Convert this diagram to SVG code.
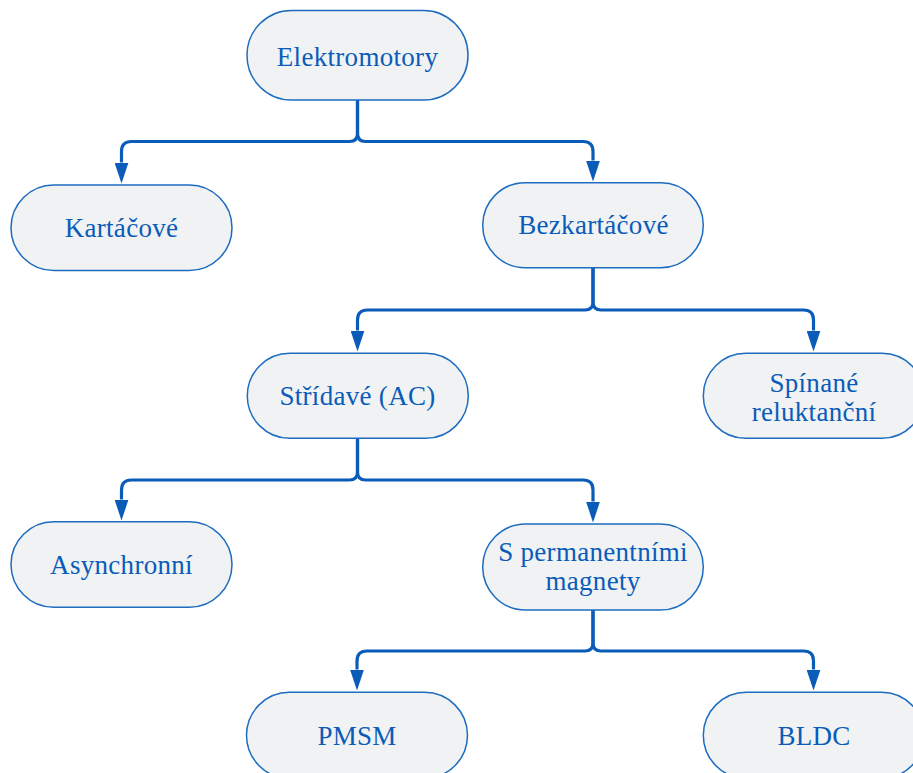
<svg xmlns="http://www.w3.org/2000/svg" width="913" height="773" viewBox="0 0 913 773">
<style>
.node rect{fill:#f1f2f4;stroke:#1c6cc0;stroke-width:1.5}
.node text{font-family:"Liberation Serif","Times New Roman",serif;font-size:27px;letter-spacing:0.3px;fill:#0a5cb8;text-anchor:middle}
.edge{fill:none;stroke:#0a5cb8;stroke-width:3.2;marker-end:url(#arr)}
</style>
<defs>
<marker id="arr" markerUnits="userSpaceOnUse" markerWidth="21" markerHeight="14" refX="0" refY="7" orient="auto">
<path d="M0,0 L21,7 L0,14 z" fill="#0a5cb8"/>
</marker>
</defs>
<rect width="913" height="773" fill="#ffffff"/>
<g id="connectors">
<path class="edge" d="M357.5,100 V133.5 Q357.5,141.5 349.5,141.5 H131.5 Q121.5,141.5 121.5,151.5 V162.5"/>
<path class="edge" d="M357.5,100 V133.5 Q357.5,141.5 365.5,141.5 H583 Q593,141.5 593,151.5 V160.5"/>
<path class="edge" d="M593,268 V302 Q593,310 585,310 H367.5 Q357.5,310 357.5,320 V330.5"/>
<path class="edge" d="M593,268 V302 Q593,310 601,310 H803.5 Q813.5,310 813.5,320 V330.5"/>
<path class="edge" d="M357.5,438 V472 Q357.5,480 349.5,480 H131.5 Q121.5,480 121.5,490 V499.5"/>
<path class="edge" d="M357.5,438 V472 Q357.5,480 365.5,480 H583 Q593,480 593,490 V501.5"/>
<path class="edge" d="M593,610 V643 Q593,651 585,651 H367 Q357,651 357,661 V669.5"/>
<path class="edge" d="M593,610 V643 Q593,651 601,651 H803.5 Q813.5,651 813.5,661 V669.5"/>
</g>
<g id="n-elektromotory" class="node"><rect x="247" y="10.5" width="221" height="89.5" rx="44.5"/><text x="357.5" y="65.5">Elektromotory</text></g>
<g id="n-kartacove" class="node"><rect x="11" y="185" width="221" height="85.5" rx="42.75"/><text x="121.5" y="236.5">Kartáčové</text></g>
<g id="n-bezkartacove" class="node"><rect x="482.7" y="182.7" width="220.6" height="85" rx="42.5"/><text x="593.5" y="234">Bezkartáčové</text></g>
<g id="n-stridave" class="node"><rect x="247.3" y="353.3" width="221" height="85" rx="42.5"/><text x="357.5" y="405">Střídavé (AC)</text></g>
<g id="n-spinane" class="node"><rect x="703.3" y="353.3" width="221" height="85" rx="42.5"/><text x="814" y="391.5">Spínané</text><text x="814" y="420.5">reluktanční</text></g>
<g id="n-asynchronni" class="node"><rect x="11" y="521.7" width="221" height="85.6" rx="42.8"/><text x="121.5" y="574">Asynchronní</text></g>
<g id="n-spermanentnimi" class="node"><rect x="482.7" y="524" width="220.6" height="86" rx="43"/><text x="593" y="560.5">S permanentními</text><text x="593" y="590">magnety</text></g>
<g id="n-pmsm" class="node"><rect x="246.5" y="692.3" width="221" height="86" rx="43"/><text x="357" y="745">PMSM</text></g>
<g id="n-bldc" class="node"><rect x="703.3" y="692.3" width="221" height="86" rx="43"/><text x="814" y="745">BLDC</text></g>
</svg>
